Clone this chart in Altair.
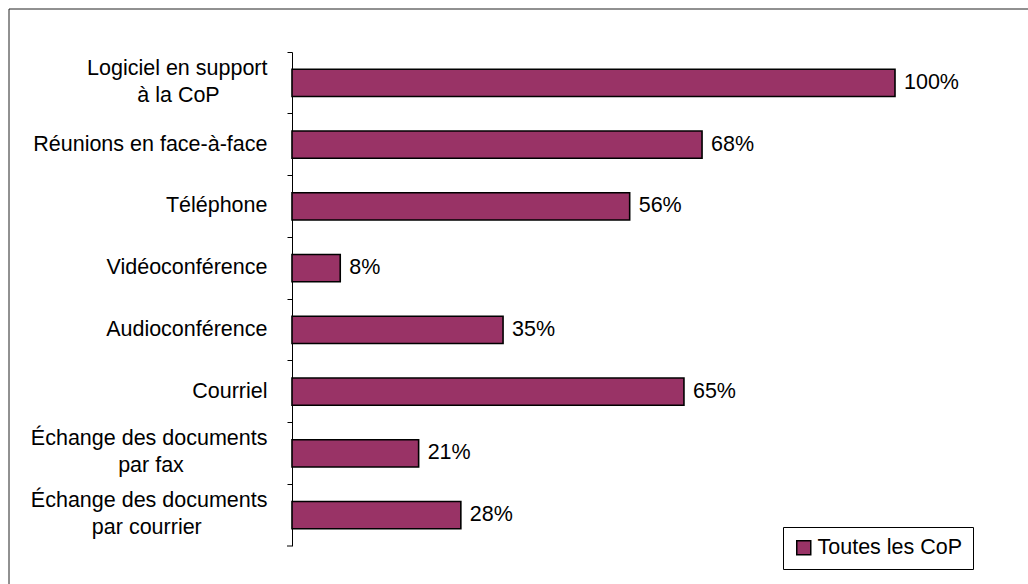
import altair as alt
import pandas as pd

# ---- data ----
categories = [
    "Logiciel en support\nà la CoP",
    "Réunions en face-à-face",
    "Téléphone",
    "Vidéoconférence",
    "Audioconférence",
    "Courriel",
    "Échange des documents\npar fax",
    "Échange des documents\npar courrier",
]
values = [100, 68, 56, 8, 35, 65, 21, 28]
series_name = "Toutes les CoP"
bar_color = "#993366"
font = "Liberation Sans"

# Arial / Liberation Sans advance widths (per 1000 em), used to centre multi-line labels
W = {c: 556 for c in "abdeghnopqu"}
W.update({"c": 500, "f": 278, "i": 222, "j": 222, "k": 500, "l": 222, "m": 833,
          "r": 333, "s": 500, "t": 278, "v": 500, "w": 722, "x": 500, "y": 500,
          "z": 500, "é": 556, "à": 556, "É": 667, "C": 722, "P": 667, "L": 556,
          " ": 278, "-": 333})


def text_w(s):
    return sum(W.get(ch, 556) for ch in s)


def centre_lines(label):
    lines = label.split("\n")
    if len(lines) == 1:
        return label
    mw = max(text_w(l) for l in lines)
    out = []
    for l in lines:
        n = round((mw - text_w(l)) / 2 / 278)
        # non-breaking spaces, closed by a zero-width space so they are not trimmed
        out.append(l + "\u00a0" * n + ("\u200b" if n else ""))
    return "\n".join(out)


labels = [centre_lines(c) for c in categories]
df = pd.DataFrame({"label": labels, "value": values, "series": series_name})
df["txt"] = df["value"].astype(str) + "%"

W_PLOT, H_PLOT = 603, 494
P_IN, P_OUT = 0.56, 0.28
n_cat = len(categories)
step = H_PLOT / n_cat
bandwidth = step * (1 - P_IN)
tick_band = -(P_OUT * step) / bandwidth  # ticks on category boundaries

y_enc = alt.Y(
    "label:N",
    sort=labels,
    scale=alt.Scale(paddingInner=P_IN, paddingOuter=P_OUT),
    axis=alt.Axis(
        title=None,
        labelExpr="split(datum.label, '\\n')",
        labelFont=font,
        labelFontSize=21.5,
        labelColor="black",
        labelAlign="right",
        labelBaseline="middle",
        labelLineHeight=27,
        labelOffset={
            "condition": {"test": "indexof(datum.value, '\\n') >= 0", "value": -14},
            "value": 0,
        },
        labelPadding=20,
        labelLimit=400,
        domainColor="black",
        domainWidth=1,
        tickColor="black",
        tickSize=5,
        bandPosition=tick_band,
        grid=False,
    ),
)
x_enc = alt.X("value:Q", scale=alt.Scale(domain=[0, 100]), axis=None)

base = alt.Chart(df)

bars = base.mark_bar(stroke="black", strokeWidth=1.6).encode(
    x=x_enc,
    y=y_enc,
    color=alt.Color(
        "series:N",
        scale=alt.Scale(range=[bar_color]),
        legend=alt.Legend(
            title=None,
            orient="none",
            legendX=491,
            legendY=475,
            padding=10,
            strokeColor="black",
            fillColor="white",
            symbolType="square",
            symbolSize=196,
            symbolStrokeColor="black",
            symbolStrokeWidth=1.5,
            labelFont=font,
            labelFontSize=21.5,
            labelColor="black",
            labelLimit=400,
            labelOffset=3,
        ),
    ),
)

text = base.mark_text(
    align="left", baseline="middle", dx=9, font=font, fontSize=21.5, color="black"
).encode(x=x_enc, y=alt.Y("label:N", sort=labels), text="txt:N")

frame_df = pd.DataFrame({"k": [0]})
top_border = alt.Chart(frame_df).mark_rule(color="#222222", strokeWidth=1).encode(
    x=alt.value(-283), x2=alt.value(800), y=alt.value(-43)
)
left_border = alt.Chart(frame_df).mark_rule(color="#222222", strokeWidth=1).encode(
    x=alt.value(-283), y=alt.value(-43), y2=alt.value(600)
)
bottom_tick = alt.Chart(frame_df).mark_rule(color="black", strokeWidth=1).encode(
    x=alt.value(-5), x2=alt.value(0), y=alt.value(H_PLOT)
)

chart = (
    alt.layer(bars, text, top_border, left_border, bottom_tick)
    .properties(
        width=W_PLOT,
        height=H_PLOT,
        autosize=alt.AutoSizeParams(type="none"),
        padding={"left": 292, "top": 52, "right": 133, "bottom": 38},
        background="white",
    )
    .configure_view(stroke=None)
)

chart.save("out.html", embed_options={"renderer": "svg", "actions": False})
